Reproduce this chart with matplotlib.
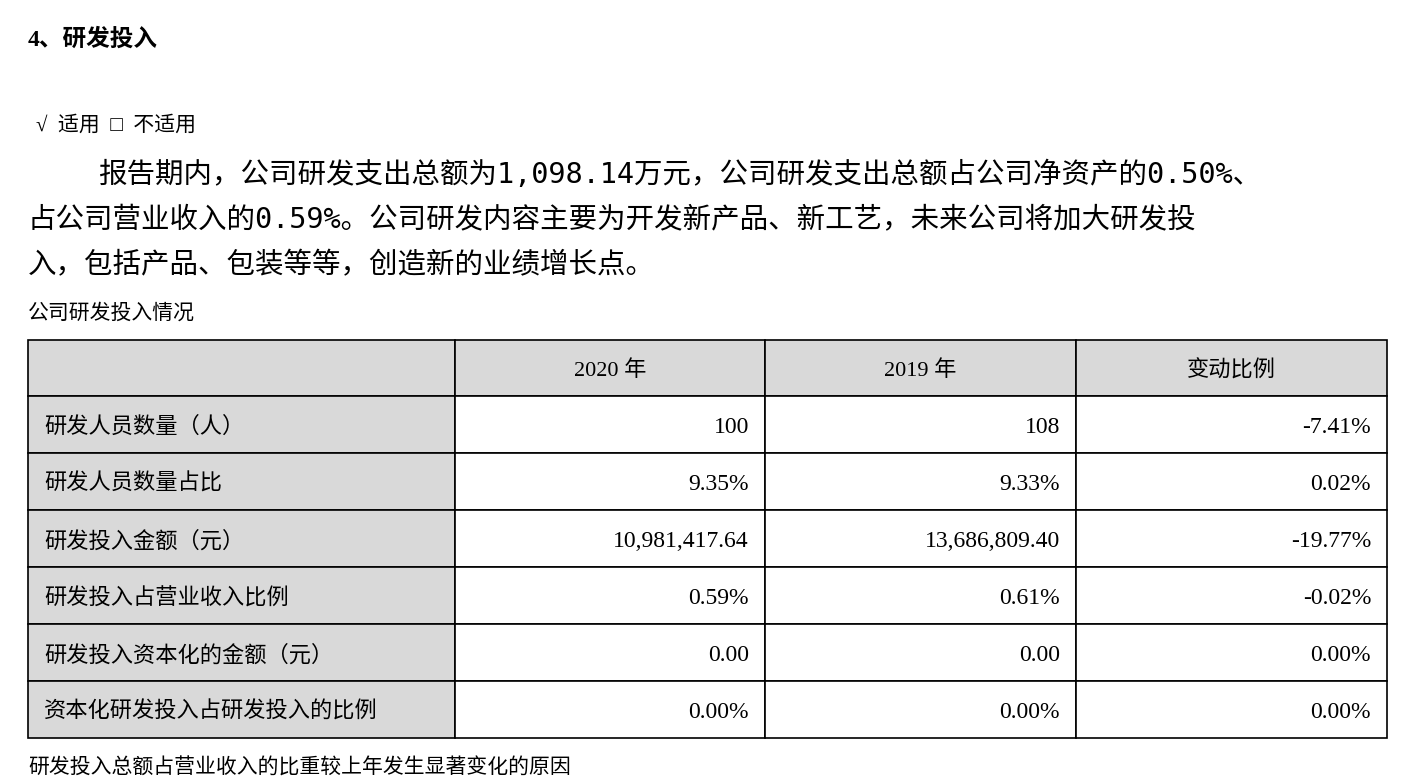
import matplotlib
matplotlib.use("Agg")
import matplotlib.pyplot as plt
from matplotlib.patches import Rectangle

title = "4、研发投入"
applicable = "√  适用  □  不适用"
para_lines = ["报告期内，公司研发支出总额为1,098.14万元，公司研发支出总额占公司净资产的0.50%、",
              "占公司营业收入的0.59%。公司研发内容主要为开发新产品、新工艺，未来公司将加大研发投",
              "入，包括产品、包装等等，创造新的业绩增长点。"]
caption = "公司研发投入情况"
footer = "研发投入总额占营业收入的比重较上年发生显著变化的原因"
columns = ["", "2020 年", "2019 年", "变动比例"]
row_labels = ["研发人员数量（人）", "研发人员数量占比", "研发投入金额（元）",
              "研发投入占营业收入比例", "研发投入资本化的金额（元）", "资本化研发投入占研发投入的比例"]
col_2020 = ["100", "9.35%", "10,981,417.64", "0.59%", "0.00", "0.00%"]
col_2019 = ["108", "9.33%", "13,686,809.40", "0.61%", "0.00", "0.00%"]
col_change = ["-7.41%", "0.02%", "-19.77%", "-0.02%", "0.00%", "0.00%"]

FAM = ['Liberation Serif', 'Noto Sans CJK SC']
MONO = ['DejaVu Sans Mono', 'Noto Sans CJK SC']
fig = plt.figure(figsize=(14.22, 7.82), dpi=100)
ax = fig.add_axes([0, 0, 1, 1])
ax.set_xlim(0, 1422); ax.set_ylim(782, 0); ax.axis('off')

ax.text(28, 40, title, fontsize=17, fontweight='bold', family=FAM, va='center')
ax.text(36, 126, applicable, fontsize=15, family=FAM, va='center')
ys = [175, 220, 265]
xs = [98, 28, 28]
for x, y, line in zip(xs, ys, para_lines):
    ax.text(x, y, line, fontsize=20.5, family=MONO, va='center')
ax.text(28, 314, caption, fontsize=15, family=FAM, va='center')

colx = [28, 455, 765, 1076, 1387]
rowy = [340, 396, 453, 510, 567, 624, 681, 738]
gray = '#d9d9d9'
off = 3
for c in range(4):
    ax.add_patch(Rectangle((colx[c], rowy[0]), colx[c+1]-colx[c], rowy[1]-rowy[0],
                           facecolor=gray, edgecolor='black', lw=1.2))
    if columns[c]:
        ax.text((colx[c]+colx[c+1])/2, (rowy[0]+rowy[1])/2+off, columns[c], fontsize=16,
                family=FAM, ha='center', va='center')
cols = [col_2020, col_2019, col_change]
for r, lab in enumerate(row_labels):
    y0, y1 = rowy[r+1], rowy[r+2]
    ym = (y0 + y1) / 2 + off
    ax.add_patch(Rectangle((colx[0], y0), colx[1]-colx[0], y1-y0, facecolor=gray,
                           edgecolor='black', lw=1.2))
    ax.text(colx[0]+16, ym, lab, fontsize=16, family=FAM, va='center')
    for c in range(3):
        ax.add_patch(Rectangle((colx[c+1], y0), colx[c+2]-colx[c+1], y1-y0,
                               facecolor='white', edgecolor='black', lw=1.2))
        ax.text(colx[c+2]-16, ym, cols[c][r], fontsize=17, family=FAM, va='center', ha='right')
ax.text(28, 769, footer, fontsize=15, family=FAM, va='center')
fig.savefig("out.png", dpi=100)
